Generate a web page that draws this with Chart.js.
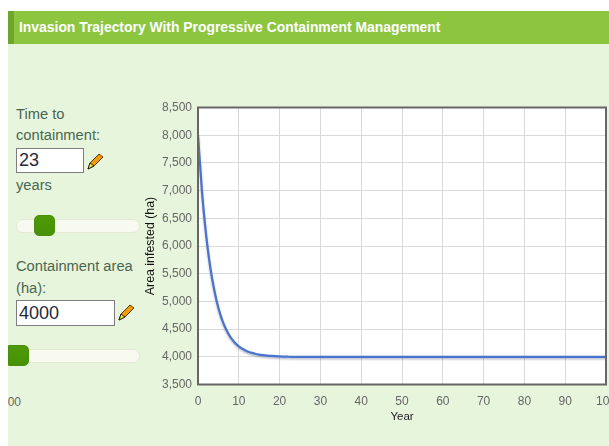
<!DOCTYPE html>
<html><head><meta charset="utf-8">
<script src="https://cdn.jsdelivr.net/npm/chart.js@4"></script>
<style>
html,body{margin:0;padding:0;background:#fff;width:609px;height:446px;overflow:hidden;font-family:"Liberation Sans",Arial,sans-serif}
#panel{position:absolute;left:8px;top:44px;width:601px;height:402px;background:#e8f5dd}
#head{position:absolute;left:8px;top:11px;width:601px;height:33px;background:#8cc63f;box-sizing:border-box;border-left:6px solid #6fa42f;color:#fff;font-weight:bold;font-size:13.9px;line-height:33px;padding-left:5px;white-space:nowrap}
canvas{position:absolute;left:143px;top:0}
.t{position:absolute;left:16px;font-size:14.7px;color:#4a6650;white-space:nowrap}
.inp{position:absolute;left:16px;box-sizing:border-box;height:25px;background:#fff;border:1px solid #7d7d7d;font-size:18px;line-height:23px;padding-left:2px;color:#1e2a3a}
.track{position:absolute;left:16px;width:124px;height:14px;background:#f8f9f1;border:1px solid #e6e8d6;border-radius:7px;box-sizing:border-box}
.thumb{position:absolute;width:21px;height:21px;border-radius:5px;background:linear-gradient(#4e9a06,#479106);border:1px solid #4a8f0a;box-sizing:border-box}
.pen{position:absolute;width:18px;height:18px}
#clip{position:absolute;left:8px;top:394px;width:20px;height:16px;overflow:hidden}
#clip span{position:absolute;top:1px;font-size:12px;color:#666}
</style></head><body>
<div id="panel"></div>
<div id="head">Invasion Trajectory With Progressive Containment Management</div>
<canvas id="c" width="497" height="424" style="width:497px;height:424px"></canvas>
<div class="t" style="top:106px">Time to</div>
<div class="t" style="top:127px">containment:</div>
<div class="inp" style="top:148px;width:68px">23</div>
<svg class="pen" style="left:87px;top:152px" viewBox="0 0 18 18"><path d="M1 17l2-6L12 2l4 3-9 9z" fill="#f09a0c" stroke="#5a3b00"/><path d="M1 17l2-6 4 3z" fill="#f4ea4a" stroke="#222"/></svg>
<div class="t" style="top:177px">years</div>
<div class="track" style="top:219px"></div>
<div class="thumb" style="left:34px;top:215px"></div>
<div class="t" style="top:258px">Containment area</div>
<div class="t" style="top:280px">(ha):</div>
<div class="inp" style="top:300px;width:99px;height:26px;line-height:25px">4000</div>
<svg class="pen" style="left:118px;top:303px" viewBox="0 0 18 18"><path d="M1 17l2-6L12 2l4 3-9 9z" fill="#f09a0c" stroke="#5a3b00"/><path d="M1 17l2-6 4 3z" fill="#f4ea4a" stroke="#222"/></svg>
<div class="track" style="top:349px"></div>
<div class="thumb" style="left:8px;top:345px;border-radius:0 5px 5px 0"></div>
<div id="clip"><span style="left:-7px">100</span></div>
<script>
const years=[0,1,2,3,4,5,6,7,8,9,10,11,12,13,14,15,16,17,18,19,20,21,22,23,24,25,30,40,50,60,70,80,90,100];
const areaInfested=[8000,6960,6190,5620,5200,4880,4650,4480,4350,4260,4190,4140,4100,4075,4055,4040,4030,4022,4016,4011,4007,4004,4002,4000,4000,4000,4000,4000,4000,4000,4000,4000,4000,4000];
const yTicks=[3500,4000,4500,5000,5500,6000,6500,7000,7500,8000,8500];
const points=years.map((y,i)=>({x:y,y:areaInfested[i]}));
const frame={id:'frame',
 beforeDraw(ch){const a=ch.chartArea,x=ch.ctx;x.save();x.fillStyle='#fff';x.fillRect(a.left,a.top,a.right-a.left,a.bottom-a.top);x.restore();},
 beforeDatasetsDraw(ch){const x=ch.ctx;x.save();x.shadowColor='rgba(50,55,100,0.35)';x.shadowBlur=2;x.shadowOffsetY=1.5;},
 afterDatasetsDraw(ch){ch.ctx.restore();},
 afterDraw(ch){const a=ch.chartArea,x=ch.ctx;x.save();x.strokeStyle='#666';x.lineWidth=2;x.strokeRect(a.left,a.top,a.right-a.left,a.bottom-a.top);x.restore();}};
new Chart(document.getElementById('c'),{type:'line',
 data:{datasets:[
  {data:points,borderColor:'#4a72cf',borderWidth:2.2,pointRadius:0,cubicInterpolationMode:'monotone'}
 ]},
 plugins:[frame],
 options:{responsive:false,animation:false,
  layout:{padding:{left:0,top:107.5,right:34,bottom:0}},
  plugins:{legend:{display:false},tooltip:{enabled:false}},
  scales:{
   x:{type:'linear',min:0,max:100,
    afterFit(s){s.height=39.5;},
    ticks:{stepSize:10,maxRotation:0,font:{family:'"Liberation Sans"',size:12},color:'#666',padding:10},
    grid:{color:'#d9d9d9',lineWidth:1,drawTicks:false},border:{display:false},
    title:{display:true,text:'Year',font:{family:'"Liberation Sans"',size:11.5},color:'#222',padding:{top:0,bottom:0}}},
   y:{min:3500,max:8500,
    afterFit(s){s.width=55;},
    afterBuildTicks(s){s.ticks=yTicks.map(v=>({value:v}));},
    ticks:{font:{family:'"Liberation Sans"',size:12},color:'#666',padding:6,callback:v=>v.toLocaleString('en-US')},
    grid:{color:'#d9d9d9',lineWidth:1,drawTicks:false},border:{display:false},
    title:{display:true,text:'Area infested (ha)',font:{family:'"Liberation Sans"',size:12.4},color:'#111',padding:{top:0,bottom:0}}}
  }}});
</script>
</body></html>
